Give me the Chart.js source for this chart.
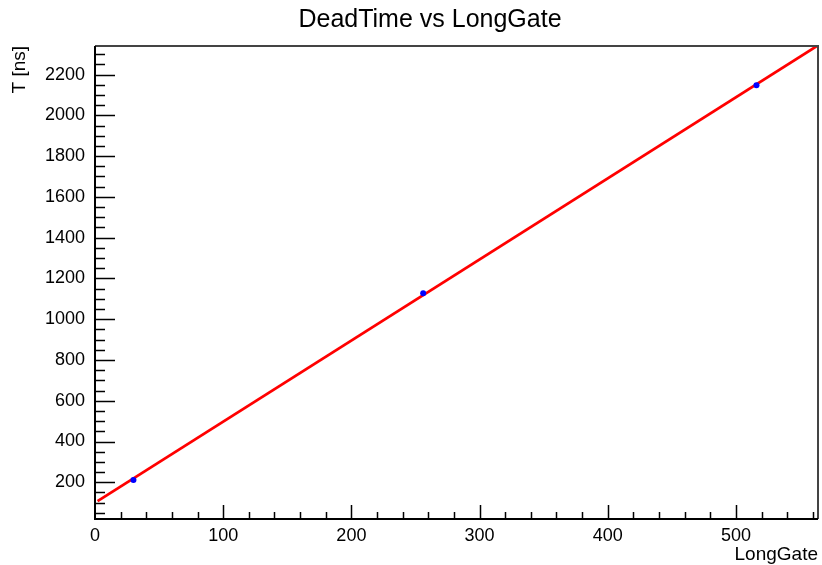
<!DOCTYPE html>
<html>
<head>
<meta charset="utf-8">
<script src="https://cdn.jsdelivr.net/npm/chart.js@4/dist/chart.umd.min.js"></script>
<style>
  html, body { margin: 0; padding: 0; background: #fff; }
  #wrap { width: 822px; height: 565px; }
</style>
</head>
<body>
<div id="wrap"><canvas id="chart" width="822" height="565"></canvas></div>
<script>
// measured points
const longGate = [30, 256, 516];
const deadTime = [211, 1127, 2148];
// fitted line, as drawn
const fitX = [2, 564];
const fitY = [108, 2343];
// axes
const xTicks = [0, 100, 200, 300, 400, 500];
const yTicks = [200, 400, 600, 800, 1000, 1200, 1400, 1600, 1800, 2000, 2200];
const xRange = [0, 564];
const yRange = [20, 2340];

const FONT = 'Liberation Sans, Arial, Helvetica, sans-serif';

// ROOT style frame: inward major/minor ticks and box
const frameTicks = {
    id: 'frameTicks',
    afterDraw(chart) {
        const ctx = chart.ctx;
        const a = chart.chartArea;
        const xs = chart.scales.x;
        const ys = chart.scales.y;
        ctx.save();
        ctx.strokeStyle = '#000';
        ctx.lineWidth = 1.5;
        ctx.beginPath();
        // y ticks
        for (let v = 50; v <= yRange[1]; v += 50) {
            if (v < yRange[0]) continue;
            const y = Math.round(ys.getPixelForValue(v)) + 0.5;
            const len = v % 200 === 0 ? 20 : 10;
            ctx.moveTo(a.left, y);
            ctx.lineTo(a.left + len, y);
        }
        // x ticks
        for (let v = 20; v <= xRange[1]; v += 20) {
            const x = Math.round(xs.getPixelForValue(v)) + 0.5;
            const len = v % 100 === 0 ? 14 : 7;
            ctx.moveTo(x, a.bottom);
            ctx.lineTo(x, a.bottom - len);
        }
        ctx.stroke();

        // top and right border
        ctx.strokeStyle = '#444';
        ctx.lineWidth = 2;
        ctx.beginPath();
        ctx.moveTo(a.left, a.top);
        ctx.lineTo(a.right, a.top);
        ctx.lineTo(a.right, a.bottom);
        ctx.stroke();
        // axis lines
        ctx.strokeStyle = '#000';
        ctx.beginPath();
        ctx.moveTo(a.left, a.top);
        ctx.lineTo(a.left, a.bottom);
        ctx.lineTo(a.right, a.bottom);
        ctx.stroke();

        // main title
        ctx.fillStyle = '#000';
        ctx.font = '25px ' + FONT;
        ctx.textAlign = 'center';
        ctx.textBaseline = 'alphabetic';
        ctx.fillText('DeadTime vs LongGate', 430, 27);
        ctx.restore();
    }
};

new Chart(document.getElementById('chart'), {
    type: 'scatter',
    data: {
        datasets: [
            {
                label: 'data',
                data: longGate.map((x, i) => ({ x: x, y: deadTime[i] })),
                backgroundColor: '#0000ff',
                borderColor: '#0000ff',
                pointRadius: 3,
                borderWidth: 0,
                showLine: false
            },
            {
                label: 'fit',
                data: fitX.map((x, i) => ({ x: x, y: fitY[i] })),
                borderColor: '#ff0000',
                borderWidth: 2.8,
                pointRadius: 0,
                showLine: true
            }
        ]
    },
    options: {
        responsive: false,
        animation: false,
        layout: { padding: { top: 46, right: 2, left: 0, bottom: 0 } },
        plugins: {
            legend: { display: false },
            title: { display: false },
            tooltip: { enabled: false }
        },
        scales: {
            x: {
                type: 'linear',
                min: xRange[0],
                max: xRange[1],
                grid: { display: false, drawTicks: false },
                border: { display: false },
                afterBuildTicks: s => { s.ticks = xTicks.map(v => ({ value: v })); },
                afterFit: s => { s.height = 46; },
                ticks: {
                    color: '#000',
                    font: { family: FONT, size: 18 },
                    padding: 6,
                    maxRotation: 0,
                    autoSkip: false,
                    callback: v => String(v)
                },
                title: {
                    display: true,
                    text: 'LongGate',
                    align: 'end',
                    color: '#000',
                    font: { family: FONT, size: 19, lineHeight: 1 },
                    padding: { top: 0, bottom: 0.5 }
                }
            },
            y: {
                type: 'linear',
                min: yRange[0],
                max: yRange[1],
                grid: { display: false, drawTicks: false },
                border: { display: false },
                afterBuildTicks: s => { s.ticks = yTicks.map(v => ({ value: v })); },
                afterFit: s => { s.width = 95; },
                ticks: {
                    color: '#000',
                    font: { family: FONT, size: 18 },
                    padding: 10,
                    autoSkip: false,
                    callback: v => String(v)
                },
                title: {
                    display: true,
                    text: 'T [ns]',
                    align: 'end',
                    color: '#000',
                    font: { family: FONT, size: 19, lineHeight: 1 },
                    padding: { top: 10, bottom: 0 }
                }
            }
        }
    },
    plugins: [frameTicks]
});
</script>
</body>
</html>
